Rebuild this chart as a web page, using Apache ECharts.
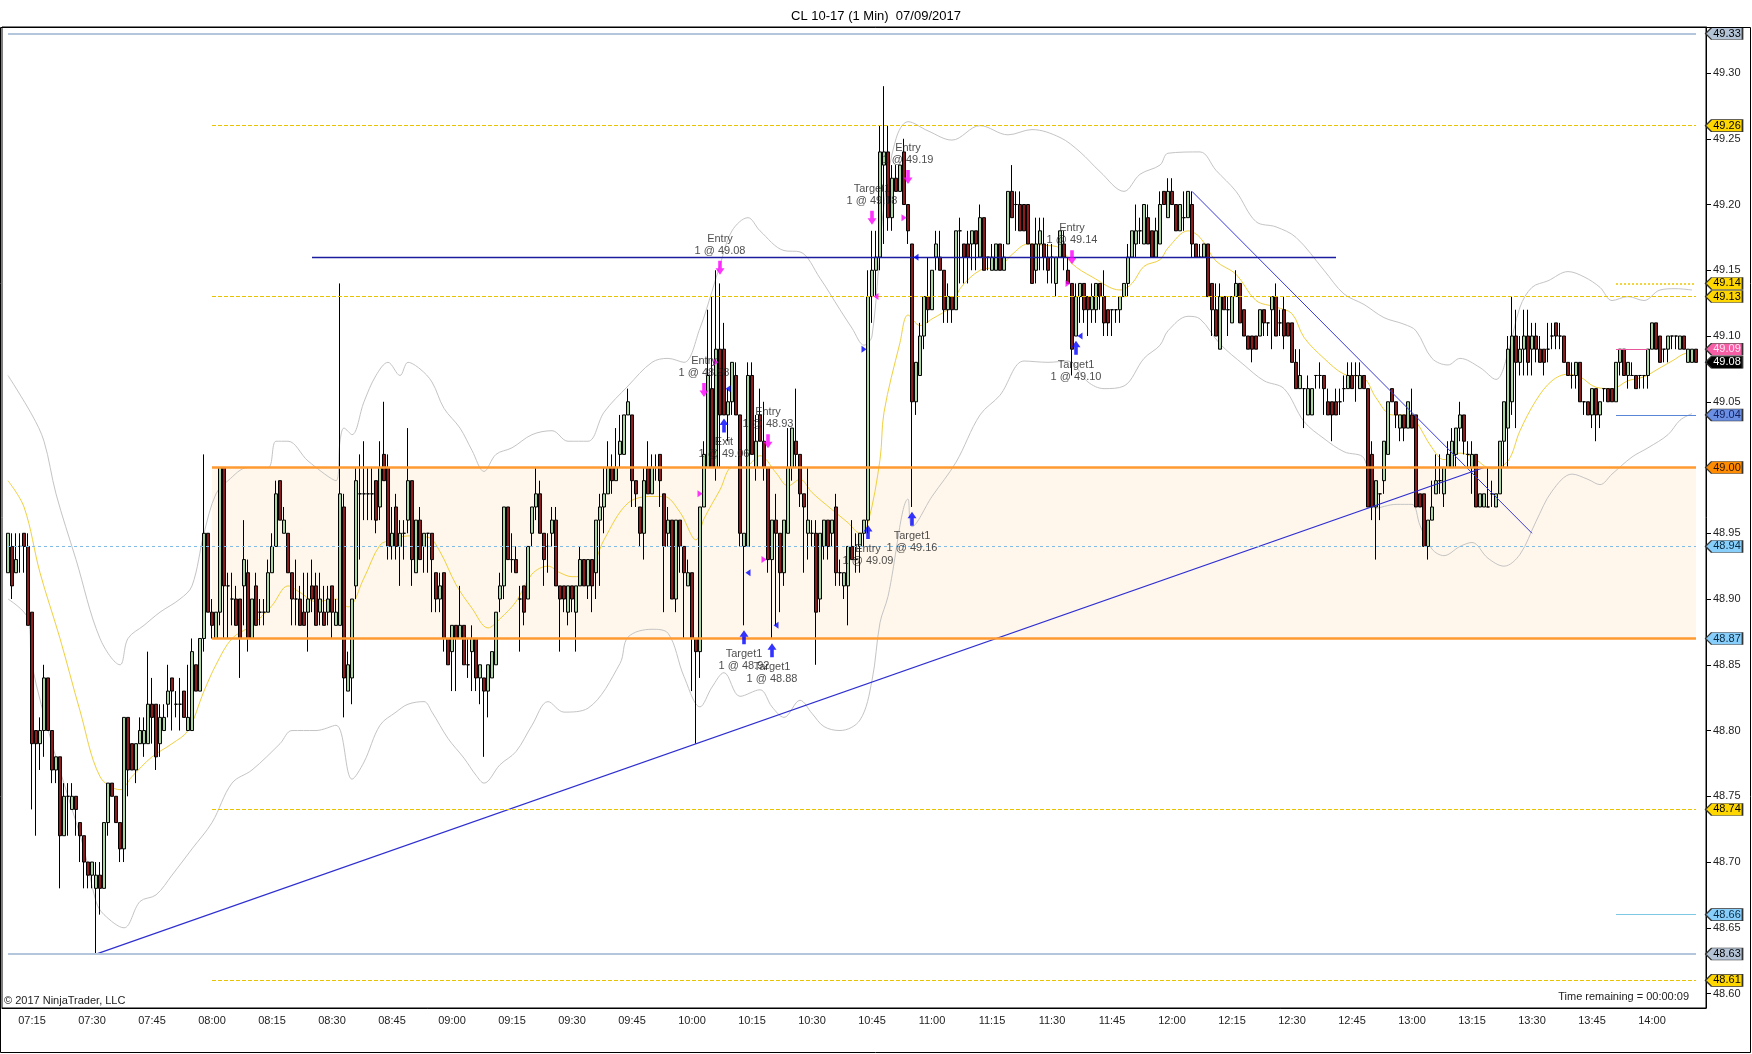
<!DOCTYPE html>
<html>
<head>
<meta charset="utf-8">
<title>CL 10-17 (1 Min) 07/09/2017</title>
<script src="https://cdn.jsdelivr.net/npm/echarts@6/dist/echarts.min.js"></script>
<style>
html, body { margin: 0; padding: 0; background: #fff; }
#chart { width: 1752px; height: 1054px; }
</style>
</head>
<body>
<div id="chart"></div>
<script>
var FONT = '"Liberation Sans", Arial, sans-serif';

// axis
var firstCategory = '07:08', lastCategory = '14:13', firstBar = '07:09';
var timeTicks = ['07:15','07:30','07:45','08:00','08:15','08:30','08:45','09:00','09:15','09:30','09:45',
    '10:00','10:15','10:30','10:45','11:00','11:15','11:30','11:45','12:00','12:15','12:30','12:45',
    '13:00','13:15','13:30','13:45','14:00'];
var priceTicks = [48.60,48.65,48.70,48.75,48.80,48.85,48.90,48.95,49.00,49.05,49.10,49.15,49.20,49.25,49.30];

// 1 min bars from 07:09, "open high low close" in cents above 48.00
var ohlc = [
    "92 95 92 95","94 95 90 91","92 95 92 93","94 95 92 94","95 95 92 94","94 95 88 88","89 89 74 79","80 80 72 79","79 81 77 80","80 85 78 84",
    "84 84 80 80","80 80 76 77","77 78 76 78","78 78 68 72","72 76 72 75","75 76 72 75","74 76 74 75","75 75 72 74","73 73 70 72","72 72 68 70",
    "70 70 68 69","69 70 68 70","68 70 63 69","69 70 66 68","68 73 68 73","73 76 72 76","76 76 75 75","75 75 73 73","73 73 70 71","71 81 70 81",
    "81 81 75 77","79 79 77 77","77 79 76 79","79 81 79 80","79 81 78 80","79 86 79 82","82 84 79 81","82 82 77 78","79 82 78 81","80 82 80 81",
    "82 85 81 83","84 84 80 83","82 83 81 82","82 84 80 82","83 83 81 81","80 85 80 81","80 87 80 86","85 85 83 83","83 87 83 87","87 101 86 95",
    "95 95 89 89","89 90 87 88","87 89 87 89","89 100 88 100","100 100 87 91","91 92 87 91","90 92 88 90","90 91 88 88","90 90 84 87","91 96 88 93",
    "92 93 86 87","87 90 87 90","91 92 88 88","89 90 88 89","89 90 88 89","89 93 89 92","92 95 92 94","94 99 94 98","99 99 96 96","95 97 95 96",
    "95 95 92 92","92 92 88 90","90 93 88 90",
    "90 91 88 88","89 92 88 88","89 92 86 90","91 93 89 90","91 92 88 88","89 92 88 90","89 91 88 88","89 91 88 90","91 91 87 89","88 90 88 89",
    "88 114 88 98","97 98 81 84","83 86 83 85","84 90 82 90","91 100 90 99","98 101 93 98","98 102 96 98","98 100 96 98","98 100 96 98","99 99 95 96",
    "97 102 96 100","101 105 99 99","100 101 93 94","94 97 93 95","97 98 93 94","94 96 91 95","95 96 93 95","96 103 95 99","99 99 91 93","92 96 92 96",
    "96 97 93 93","94 95 92 95","95 95 92 95","95 95 89 93","92 92 89 90","90 92 89 91","92 92 86 87","87 87 85 85","86 88 83 88","88 88 83 87",
    "87 91 87 88","88 88 85 85","85 87 84 85","86 88 83 87","87 87 83 84","84 85 82 85","84 84 78 83","83 85 81 85","84 86 84 86","85 89 85 89",
    "90 92 89 91","91 97 90 97","97 97 93 93","93 95 92 93","93 94 92 92","90 91 86 90","91 91 88 89","90 94 90 94","95 97 94 97","97 100 96 98",
    "98 99 95 95","95 95 91 93","94 95 92 94","95 97 94 96","96 97 91 91","91 91 86 90","91 91 89 90","89 91 88 91","91 91 89 90","89 91 86 91",
    "91 94 91 93","93 93 91 91","91 93 90 93",
    "93 93 89 91","92 96 90 96","96 98 91 97","97 100 95 98","98 102 98 100","100 101 98 99","99 103 99 100","101 104 100 102","101 104 101 104","104 106 104 105",
    "104 104 97 99","99 99 97 98","97 97 94 95","95 100 93 99","100 102 98 98","98 101 98 100","100 101 99 100","101 101 97 99","98 98 89 94","95 97 94 96",
    "96 96 90 90","90 96 89 96","96 96 92 94","94 94 87 92","91 93 91 92","92 92 83 87","87 87 79 86","86 97 84 97","97 102 97 101","100 112 100 107",
    "106 113 100 100","100 115 99 109","109 114 100 104","109 111 104 104","104 106 102 105","105 108 104 108","107 108 104 104","104 104 94 95","94 95 88 95","94 108 94 107",
    "107 108 101 101","100 104 99 102","104 106 102 102","102 105 99 100","100 100 92 93","93 96 87 96","96 98 88 95","95 95 89 92","92 96 91 96","95 103 95 100",
    "100 103 99 103","102 106 100 101","101 101 97 98","98 98 92 97","95 100 93 96","95 96 94 95","95 96 85 89","90 95 89 95","94 96 93 96","96 96 93 94",
    "95 96 94 96","97 98 91 92","92 93 91 92","91 92 90 92","91 94 88 94","94 96 93 93","93 95 92 93","94 95 92 95","95 96 94 96",
    "96 115 95 113","113 118 111 115","115 118 113 116","116 126 115 124","123 129 117 124","124 126 118 119","119 123 118 122","122 123 121 121","121 123 121 123","124 125 120 120",
    "120 120 117 118","117 117 97 105","105 108 104 108","107 111 107 110","110 113 109 113","113 116 111 112","112 115 112 115","116 118 115 117","116 118 115 115","115 115 111 112",
    "112 114 111 113","113 113 111 112","112 118 112 118","118 119 114 118","117 117 114 116","117 118 114 116","117 118 115 118","118 118 115 117","116 120 116 119","119 119 115 115",
    "116 116 115 116","115 117 115 116","115 117 115 117","117 117 115 115","115 117 115 116","117 121 117 121","121 123 119 119","120 121 118 120","120 121 118 118","120 120 118 118",
    "120 120 117 117","117 117 114 114","115 119 114 117","117 119 115 118","117 119 115 116","116 117 114 115","116 117 114 116","114 116 113 116","116 118 116 118","117 118 115 116",
    "115 116 114 114","114 114 107 109","110 114 110 113","113 114 111 114","114 114 111 112","113 113 110 112","112 114 111 113","112 114 111 114","114 114 112 113","113 115 110 111",
    "112 112 110 111","112 112 110 112","112 112 111 112","112 113 111 113","113 114 113 114","114 117 113 116","116 118 116 118","117 120 116 118","118 119 117 118","117 120 117 120",
    "119 120 117 117","118 118 116 116","116 119 116 118",
    "117 121 117 120","121 121 120 120","119 122 119 121","121 122 120 120","120 120 118 118","118 120 118 120","119 121 118 119","119 121 119 121","120 121 116 117","117 117 116 116",
    "116 117 116 116","116 117 116 117","117 117 113 113","114 114 110 112","112 114 110 110","109 114 109 113","113 113 112 112","112 113 110 112","111 113 111 113","113 115 113 114",
    "114 114 111 111","112 112 110 110","110 110 109 109","110 110 108 109","110 110 109 109","110 112 110 112","112 112 110 111","111 111 110 111","112 113 109 113","113 114 110 110",
    "111 112 110 111","112 113 109 110","111 111 110 110","111 111 108 108","108 109 106 106","106 109 106 107","106 106 103 106","104 107 104 106","104 106 104 106","107 107 106 107",
    "107 108 106 107","107 107 104 106","105 106 104 104","105 105 102 104","105 106 104 104","105 106 104 105","106 107 105 106","106 108 106 107","107 108 106 106","107 108 105 107",
    "106 108 106 107","107 107 106 106","106 106 97 97","101 102 96 97","97 99 93 99","98 98 96 98","99 102 98 102","101 105 101 105","106 106 105 105","105 105 103 104",
    "103 104 102 104","104 104 102 103","103 105 103 105","104 106 103 103","104 104 97 97","98 98 97 97","98 98 94 94","94 96 93 96","96 99 96 97","98 101 98 99",
    "99 101 98 99","98 100 97 100","100 102 100 101",
    "100 103 100 102","101 103 100 103","103 105 102 104","104 104 101 102","101 102 100 101","100 102 98 101","101 101 97 97","97 98 97 98","97 98 97 98","97 100 97 97",
    "98 99 97 98","97 98 97 98","98 102 98 102","102 105 100 105","103 110 100 109","105 113 104 110","110 112 103 108","108 110 107 109","109 112 107 110","110 112 107 108",
    "109 111 107 110","110 111 108 109","109 110 108 108","109 109 107 108","109 111 108 109","110 111 109 110","111 111 109 110","110 111 109 110","110 110 108 108","108 108 107 107",
    "107 108 106 107","107 108 106 108","108 108 105 105","105 105 104 105","105 105 104 104","104 106 103 106","106 106 102 104","104 105 103 105","106 106 105 106","106 106 105 105",
    "106 106 105 105","105 108 105 108","108 109 107 109","109 109 107 107","107 108 106 108","107 108 107 107","107 107 106 106","107 107 106 107","107 107 106 107","107 109 106 109",
    "109 111 109 111","111 111 109 109","110 110 108 108","109 109 108 109","109 110 108 110","110 110 109 110","110 110 109 110","109 110 109 110","110 110 109 109","108 109 108 109",
    "108 109 108 109","109 109 108 108"
];

// indicator lines
var upperBand = [['07:09',49.07],['07:15',49.04],['07:18',49.02],['07:21',48.98],['07:26',48.93],['07:32',48.87],['07:37',48.85],['07:39',48.87],['07:43',48.88],['07:47',48.89],
    ['07:52',48.90],['07:55',48.91],['07:58',48.95],['08:01',48.98],['08:04',48.99],['08:09',49.00],['08:14',49.00],['08:16',49.02],['08:19',49.02],['08:24',49.005],
    ['08:31',48.99],['08:32',49.02],['08:33',49.03],['08:35',49.025],['08:38',49.05],['08:41',49.07],['08:44',49.08],['08:47',49.07],['08:49',49.08],['08:52',49.075],
    ['08:55',49.065],['08:58',49.045],['09:02',49.03],['09:05',49.013],['09:08',48.997],['09:11',49.01],['09:15',49.015],['09:20',49.025],['09:25',49.028],['09:29',49.02],
    ['09:34',49.02],['09:38',49.042],['09:44',49.062],['09:50',49.08],['09:54',49.083],['09:58',49.08],['10:02',49.106],['10:05',49.134],['10:07',49.154],['10:10',49.18],
    ['10:14',49.19],['10:17',49.18],['10:23',49.165],['10:27',49.164],['10:32',49.144],['10:37',49.12],['10:40',49.106],['10:43',49.093],['10:45',49.10],['10:48',49.20],
    ['10:51',49.25],['10:54',49.263],['10:59',49.256],['11:05',49.249],['11:12',49.26],['11:19',49.253],['11:25',49.257],['11:32',49.251],['11:37',49.24],['11:42',49.225],
    ['11:48',49.21],['11:52',49.223],['11:57',49.23],['11:59',49.239],['12:07',49.24],['12:11',49.226],['12:16',49.21],['12:21',49.187],['12:26',49.183],['12:31',49.175],
    ['12:38',49.15],['12:43',49.132],['12:48',49.124],['12:53',49.114],['12:58',49.109],['13:01',49.104],['13:05',49.083],['13:09',49.078],['13:12',49.083],['13:17',49.076],
    ['13:21',49.067],['13:24',49.087],['13:27',49.122],['13:30',49.137],['13:34',49.142],['13:39',49.149],['13:43',49.145],['13:47',49.137],['13:50',49.127],['13:54',49.13],
    ['13:58',49.127],['14:02',49.135],['14:06',49.136],['14:10',49.135]];
var lowerBand = [['07:09',48.90],['07:14',48.885],['07:15',48.85],['07:20',48.79],['07:24',48.75],['07:28',48.71],['07:31',48.67],['07:33',48.66],['07:38',48.65],['07:42',48.67],
    ['07:46',48.675],['07:50',48.69],['07:55',48.71],['08:00',48.73],['08:05',48.76],['08:10',48.77],['08:17',48.79],['08:20',48.80],['08:26',48.80],['08:31',48.804],
    ['08:35',48.763],['08:38',48.776],['08:42',48.804],['08:46',48.814],['08:49',48.82],['08:53',48.822],['08:55',48.814],['08:59',48.794],['09:03',48.779],['09:06',48.766],
    ['09:08',48.76],['09:12',48.774],['09:16',48.784],['09:20',48.804],['09:24',48.822],['09:28',48.814],['09:34',48.817],['09:42',48.851],['09:44',48.871],['09:50',48.877],
    ['09:54',48.874],['09:58',48.841],['10:02',48.818],['10:05',48.833],['10:08',48.844],['10:12',48.826],['10:17',48.831],['10:20',48.818],['10:23',48.81],['10:27',48.823],
    ['10:30',48.813],['10:33',48.803],['10:37',48.80],['10:42',48.808],['10:45',48.838],['10:47',48.882],['10:49',48.902],['10:54',48.976],['10:55',48.955],['11:00',48.978],
    ['11:06',49.004],['11:12',49.04],['11:17',49.055],['11:23',49.081],['11:29',49.08],['11:34',49.081],['11:39',49.065],['11:43',49.06],['11:48',49.062],['11:53',49.083],
    ['11:57',49.093],['11:59',49.104],['12:04',49.115],['12:07',49.113],['12:12',49.094],['12:18',49.078],['12:23',49.066],['12:28',49.06],['12:33',49.035],['12:38',49.022],
    ['12:43',49.012],['12:48',49.007],['12:51',48.969],['12:56',48.972],['13:00',48.972],['13:02',48.956],['13:05',48.938],['13:08',48.933],['13:12',48.94],['13:15',48.943],
    ['13:19',48.931],['13:23',48.925],['13:27',48.934],['13:31',48.959],['13:35',48.982],['13:40',48.995],['13:44',48.991],['13:47',48.987],['13:50',48.995],['13:55',49.008],
    ['13:59',49.015],['14:04',49.025],['14:07',49.036],['14:10',49.041]];
var movingAvg = [['07:09',48.99],['07:13',48.97],['07:17',48.92],['07:22',48.87],['07:27',48.815],['07:32',48.765],['07:37',48.755],['07:40',48.765],['07:45',48.78],['07:50',48.79],
    ['07:54',48.80],['07:58',48.83],['08:01',48.85],['08:05',48.87],['08:10',48.88],['08:15',48.895],['08:19',48.91],['08:22',48.905],['08:26',48.898],['08:31',48.90],
    ['08:34',48.894],['08:38',48.916],['08:42',48.941],['08:45',48.945],['08:49',48.948],['08:54',48.947],['08:57',48.936],['09:01',48.911],['09:05',48.893],['09:09',48.878],
    ['09:12',48.885],['09:16',48.898],['09:20',48.919],['09:24',48.925],['09:27',48.92],['09:30',48.917],['09:34',48.919],['09:38',48.945],['09:44',48.973],['09:50',48.978],
    ['09:53',48.978],['09:57',48.966],['10:01',48.945],['10:03',48.961],['10:07',48.983],['10:10',49.00],['10:13',49.00],['10:17',49.009],['10:21',48.996],['10:24',48.986],
    ['10:27',48.991],['10:30',48.981],['10:35',48.968],['10:39',48.958],['10:42',48.95],['10:44',48.958],['10:47',49.006],['10:48',49.042],['10:52',49.095],['10:54',49.116],
    ['10:57',49.108],['11:00',49.113],['11:05',49.123],['11:07',49.136],['11:12',49.15],['11:17',49.153],['11:20',49.162],['11:24',49.17],['11:28',49.169],['11:32',49.167],
    ['11:35',49.155],['11:40',49.145],['11:47',49.135],['11:50',49.14],['11:53',49.153],['11:57',49.158],['11:59',49.167],['12:04',49.18],['12:07',49.175],['12:11',49.157],
    ['12:16',49.147],['12:21',49.127],['12:26',49.122],['12:30',49.117],['12:33',49.099],['12:38',49.083],['12:43',49.071],['12:48',49.068],['12:51',49.053],['12:55',49.04],
    ['12:59',49.04],['13:01',49.035],['13:05',49.015],['13:08',49.006],['13:12',49.011],['13:15',49.008],['13:20',48.999],['13:24',49.005],['13:27',49.028],['13:31',49.051],
    ['13:35',49.066],['13:39',49.071],['13:42',49.069],['13:46',49.061],['13:50',49.06],['13:54',49.066],['13:58',49.069],['14:01',49.074],['14:05',49.081],['14:09',49.087],
    ['14:10',49.087]];

// drawn levels
var fullSpan = ['07:09', '14:11'];
var zoneSpan = ['08:00', '14:11'];
var recentSpan = ['13:51', '14:11'];
var steelLevels = [49.33, 48.63];
var goldLevels = [49.26, 49.13, 48.74, 48.61];
var zoneLevels = [49.00, 48.87];
var midLevel = 48.94;
var pivotLevel = [49.16, '08:25', '12:41'];
var dottedLevel = 49.14;
var pinkLevel = [49.09, '13:51', '13:59'];
var blueLevel = 49.04;
var skyLevel = 48.66;
var risingTrend = [['07:31', 48.63], ['13:18', 49.00]];
var fallingTrend = [['12:05', 49.21], ['13:30', 48.95]];

// trades
var sellArrows = [['10:07',49.152,'Entry\n1 @ 49.08'],['10:03',49.059,'Entry\n1 @ 48.98'],['10:19',49.02,'Entry\n1 @ 48.93'],
    ['10:54',49.221,'Entry\n1 @ 49.19'],['11:35',49.16,'Entry\n1 @ 49.14'],['10:45',49.19,'Target1\n1 @ 49.18']];
var buyArrows = [['10:13',48.871,'Target1\n1 @ 48.92'],['10:20',48.861,'Target1\n1 @ 48.88'],['10:08',49.032,'Exit\n1 @ 49.06'],
    ['10:44',48.951,'Entry\n1 @ 49.09'],['10:55',48.961,'Target1\n1 @ 49.16'],['11:36',49.091,'Target1\n1 @ 49.10']];
var sellFillsIn = [['10:03',48.98],['10:07',49.08],['10:19',48.93],['10:54',49.19],['11:35',49.14]];
var sellFillsOut = [['10:45',49.13]];
var buyFillsOut = [['10:08',49.06],['10:13',48.92],['10:20',48.88],['10:55',49.16],['11:36',49.10]];
var buyFillsIn = [['10:44',49.09]];

// price markers on the axis
var tagLevels = [[49.33,'steel'],[49.26,'gold'],[49.14,'gold'],[49.13,'gold'],[49.09,'pink'],[49.08,'last'],[49.04,'blue'],
    [49.00,'orange'],[48.94,'sky'],[48.87,'sky'],[48.74,'gold'],[48.66,'sky'],[48.63,'steel'],[48.61,'gold']];

var tagStyle = {
    steel: ['#b4c3d6', '#000'], gold: ['#ffd700', '#000'], pink: ['#f65fa5', '#ffe6f2'],
    last: ['#000', '#fff'], blue: ['#6b8fe3', '#13215c'], orange: ['#ff8c00', '#2a1500'], sky: ['#87cefa', '#0b2a40']
};

function toMin(t) { var p = t.split(':'); return +p[0] * 60 + +p[1]; }
function toTime(m) {
    var h = Math.floor(m / 60), mm = m % 60;
    return (h < 10 ? '0' : '') + h + ':' + (mm < 10 ? '0' : '') + mm;
}
var categories = [];
for (var m = toMin(firstCategory); m <= toMin(lastCategory); m++) categories.push(toTime(m));

var candleData = categories.map(function (t) {
    var i = toMin(t) - toMin(firstBar);
    if (i < 0 || i >= ohlc.length) return '-';
    var v = ohlc[i].split(' ').map(function (s) { return +(48 + s / 100).toFixed(2); });
    return [v[0], v[3], v[2], v[1]];
});

function hLine(price, from, to, style) {
    return [{ coord: [from, price], lineStyle: style }, { coord: [to, price], lineStyle: style }];
}

var levelLines = [];
steelLevels.forEach(function (p) { levelLines.push(hLine(p, fullSpan[0], fullSpan[1], { color: '#b4c6dc', width: 2, type: 'solid' })); });
goldLevels.forEach(function (p) { levelLines.push(hLine(p, zoneSpan[0], zoneSpan[1], { color: '#e8c400', width: 1, type: [4, 2] })); });
levelLines.push(hLine(midLevel, fullSpan[0], fullSpan[1], { color: '#80bce6', width: 1, type: [3, 3] }));
zoneLevels.forEach(function (p) { levelLines.push(hLine(p, zoneSpan[0], zoneSpan[1], { color: '#ff9a30', width: 2.5, type: 'solid' })); });
levelLines.push(hLine(pivotLevel[0], pivotLevel[1], pivotLevel[2], { color: '#1c1ca0', width: 1.3, type: 'solid' }));
levelLines.push(hLine(dottedLevel, recentSpan[0], recentSpan[1], { color: '#f0c800', width: 1.5, type: [2, 2] }));
levelLines.push(hLine(pinkLevel[0], pinkLevel[1], pinkLevel[2], { color: '#e8559a', width: 1, type: 'solid' }));
levelLines.push(hLine(blueLevel, recentSpan[0], recentSpan[1], { color: '#5b86d8', width: 1, type: 'solid' }));
levelLines.push(hLine(skyLevel, recentSpan[0], recentSpan[1], { color: '#7ec8e3', width: 1, type: 'solid' }));

var tagPoints = tagLevels.map(function (t) {
    var s = tagStyle[t[1]];
    return {
        coord: [lastCategory, t[0]], value: t[0],
        itemStyle: { color: s[0], borderColor: '#333', borderWidth: 1 },
        label: { color: s[1] }
    };
});

var ARROW_DOWN = 'path://M3,0 L7,0 L7,7 L10,7 L5,13 L0,7 L3,7 Z';
var ARROW_UP = 'path://M5,0 L10,6 L7,6 L7,13 L3,13 L3,6 L0,6 Z';
var TAG = 'path://M0,6 L6,0 L37,0 L37,12 L6,12 Z';

function lineSeries(name, data, color, z) {
    return {
        name: name, type: 'line', data: data, z: z, smooth: 0.35, symbol: 'none', silent: true,
        lineStyle: { color: color, width: 1 }
    };
}
function fillSeries(data, color, rotate, dx) {
    return {
        type: 'scatter', data: data, z: 5, silent: true, symbol: 'triangle', symbolSize: [7, 5],
        symbolRotate: rotate, symbolOffset: [dx, 0], itemStyle: { color: color }
    };
}
function arrowSeries(data, color, symbol, pos) {
    return {
        type: 'scatter', data: data, z: 5, silent: true, symbol: symbol, symbolSize: [9, 14],
        itemStyle: { color: color },
        label: {
            show: true, position: pos, distance: 4, color: '#222', fontSize: 11, lineHeight: 12,
            fontFamily: FONT, align: 'center',
            formatter: function (p) { return p.data[2]; }
        }
    };
}

var chart = echarts.init(document.getElementById('chart'));
var option = {
    animation: false,
    backgroundColor: '#fff',
    title: {
        text: 'CL 10-17 (1 Min)  07/09/2017', left: 'center', top: 5,
        textStyle: { fontSize: 13, fontWeight: 'normal', color: '#000', fontFamily: FONT }
    },
    grid: { left: 2, right: 46, top: 27, bottom: 46, show: true, borderColor: '#000', borderWidth: 1 },
    xAxis: {
        type: 'category', data: categories, boundaryGap: true,
        axisLine: { lineStyle: { color: '#000' } },
        axisTick: {
            alignWithLabel: true, length: 5, lineStyle: { color: '#000' },
            interval: function (i, v) { return timeTicks.indexOf(v) >= 0; }
        },
        axisLabel: {
            color: '#222', fontSize: 11, fontFamily: FONT, margin: 7,
            interval: function (i, v) { return timeTicks.indexOf(v) >= 0; }
        },
        splitLine: { show: false }
    },
    yAxis: {
        type: 'value', position: 'right', min: 48.589, max: 49.335, scale: true,
        axisLine: { show: true, lineStyle: { color: '#000' } },
        axisTick: { show: true, length: 5, lineStyle: { color: '#000' }, customValues: priceTicks },
        axisLabel: {
            color: '#222', fontSize: 11, fontFamily: FONT, margin: 7, customValues: priceTicks,
            formatter: function (v) { return v.toFixed(2); }
        },
        splitLine: { show: false }
    },
    graphic: [
        { type: 'rect', silent: true, z: 100, shape: { x: 0.5, y: 27.5, width: 1750, height: 1025 },
          style: { fill: 'none', stroke: '#000', lineWidth: 1 } },
        { type: 'text', left: 4, top: 995, silent: true, z: 100,
          style: { text: '\u00a9 2017 NinjaTrader, LLC', font: '11px ' + FONT, fill: '#222' } },
        { type: 'text', right: 63, top: 991, silent: true, z: 100,
          style: { text: 'Time remaining = 00:00:09', font: '11px ' + FONT, fill: '#222' } }
    ],
    series: [
        {
            type: 'line', data: [], z: 1, silent: true,
            markArea: {
                silent: true,
                itemStyle: { color: 'rgba(255, 226, 185, 0.28)' },
                data: [[{ coord: [zoneSpan[0], zoneLevels[0]] }, { coord: [zoneSpan[1], zoneLevels[1]] }]]
            },
            markLine: { silent: true, symbol: ['none', 'none'], label: { show: false }, data: levelLines }
        },
        lineSeries('upper', upperBand, '#c4c4c4', 2),
        lineSeries('lower', lowerBand, '#c4c4c4', 2),
        lineSeries('ma', movingAvg, '#f0d040', 2),
        {
            type: 'candlestick', data: candleData, z: 3, silent: true, barWidth: 3,
            itemStyle: {
                color: '#a8d5a0', color0: '#8e1b1b', borderColor: '#000', borderColor0: '#000',
                borderColorDoji: '#000', borderWidth: 1
            }
        },
        {
            type: 'line', data: risingTrend, z: 4, symbol: 'none', silent: true,
            lineStyle: { color: '#2f2fd0', width: 1.2 }
        },
        {
            type: 'line', data: fallingTrend, z: 4, symbol: 'none', silent: true,
            lineStyle: { color: '#3a3ad8', width: 1 }
        },
        fillSeries(sellFillsIn, '#ff00ff', -90, -4),
        fillSeries(sellFillsOut, '#ff00ff', 90, 4),
        fillSeries(buyFillsOut, '#0000ff', 90, 4),
        fillSeries(buyFillsIn, '#0000ff', -90, -4),
        arrowSeries(sellArrows, '#ff00ff', ARROW_DOWN, 'top'),
        arrowSeries(buyArrows, '#0000ff', ARROW_UP, 'bottom'),
        {
            type: 'line', data: [], z: 6, silent: true,
            markPoint: {
                silent: true, symbol: TAG, symbolSize: [37, 12], symbolKeepAspect: false,
                symbolOffset: [20, 0],
                label: {
                    show: true, position: 'inside', offset: [3, 0], fontSize: 11, fontFamily: FONT,
                    formatter: function (p) { return p.value.toFixed(2); }
                },
                data: tagPoints
            }
        }
    ]
};
chart.setOption(option);
</script>
</body>
</html>
